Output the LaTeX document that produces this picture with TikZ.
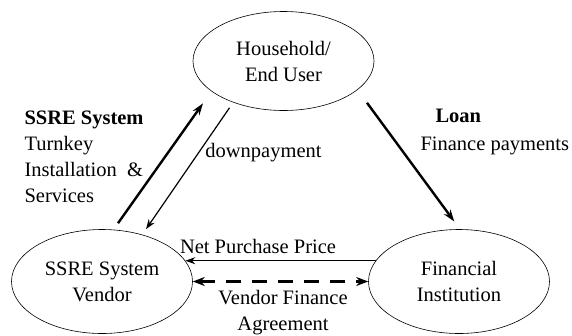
\documentclass[tikz,border=0pt]{standalone}
\usepackage{fontspec}
\setmainfont{Liberation Serif}
\usetikzlibrary{arrows.meta,shapes,calc}

\begin{document}
\begin{tikzpicture}[x=1pt,y=1pt,
  every node/.style={font=\fontsize{20.5}{26}\selectfont},
  party/.style={draw,ellipse,inner sep=0pt,minimum width=181pt,minimum height=104pt,align=center,line width=0.6pt},
  flow/.style={-{Stealth[length=10pt,width=7pt]},line width=1.2pt},
  bigflow/.style={-{Stealth[length=12pt,width=8pt]},line width=2.4pt}]
\useasboundingbox (0,0) rectangle (572,-335);
% the three parties
\node[party,minimum height=99pt] (user) at (283.5,-61) {Household/\\End User};
\node[party] (vendor) at (102,-281.5) {SSRE System\\Vendor};
\node[party] (bank) at (459,-281.5) {Financial\\Institution};
% labels
\node[align=left,anchor=west] (goods) at (21,-157) {\textbf{SSRE System}\\Turnkey\\Installation \ \&\\Services};
\node (down) at (263.5,-153) {downpayment};
\node[align=left,anchor=west] (loan) at (417,-132) {\hspace*{15pt}\textbf{Loan}\\[2pt]Finance payments};
\node (net) at (258,-246) {Net Purchase Price};
\node[align=center] (agree) at (283,-312.5) {Vendor Finance\\Agreement};
% flows
\draw[bigflow] ([shift={(16,6)}]vendor.north) -- ([shift={(-80.5,7.5)}]user.south);
\draw[flow] ([shift={(-54,3)}]user.south) -- ([shift={(44,0)}]vendor.north);
\draw[bigflow] ([shift={(83.5,8)}]user.south) -- ([shift={(-4.7,7.7)}]bank.north);
\draw[flow] (bank.166) -- (vendor.14);
\draw[{Stealth[length=12pt,width=9pt]}-{Stealth[length=12pt,width=9pt]},line width=2.6pt,dash pattern=on 15pt off 11pt] (vendor.east) -- (bank.west);
\end{tikzpicture}
\end{document}
